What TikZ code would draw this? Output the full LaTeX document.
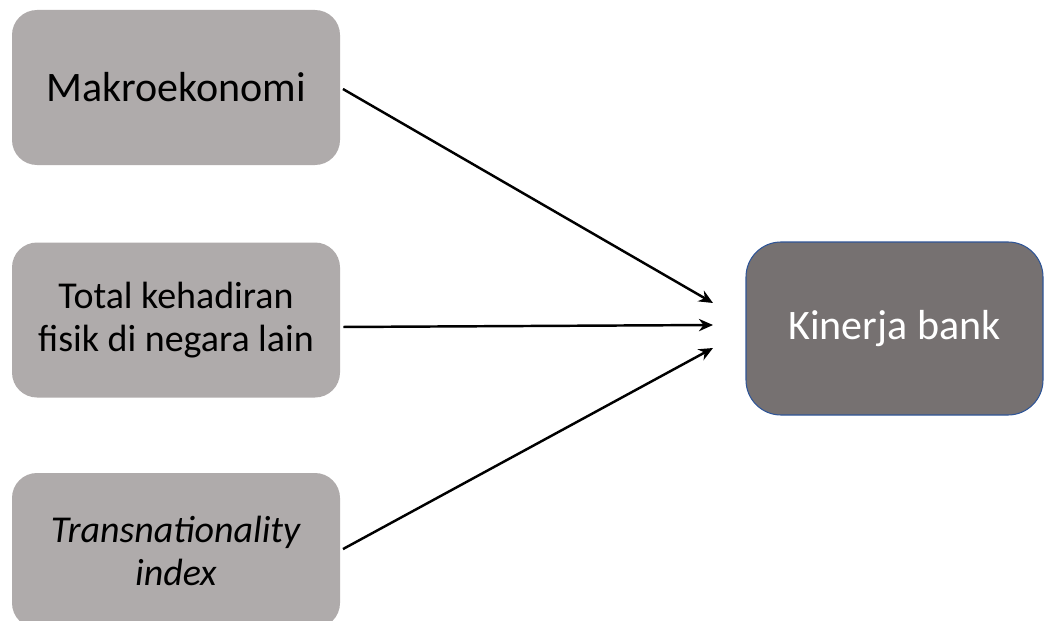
\documentclass[tikz,border=0pt]{standalone}
\usepackage{fontspec}
\setmainfont{Carlito}
\usepackage{tikz}
\usetikzlibrary{arrows.meta}
\definecolor{factorgray}{HTML}{AFABAB}
\definecolor{bankgray}{HTML}{767171}
\definecolor{bankedge}{HTML}{2F5597}

\begin{document}
\begin{tikzpicture}[
  factor/.style={shape=rectangle, rounded corners=0.5cm, fill=factorgray,
    minimum width=6.56cm, minimum height=3.1cm, align=center,
    font=\fontsize{21.6}{24.5}\selectfont},
  target/.style={shape=rectangle, rounded corners=0.7cm, fill=bankgray,
    draw=bankedge, line width=0.6pt, minimum width=5.94cm, minimum height=3.46cm,
    text=white, font=\fontsize{23.9}{26}\selectfont},
  link/.style={-{Stealth[length=8pt,width=7pt]}, line width=1.4pt, shorten <=1.7pt}]
\clip (0,0) rectangle (20.92,12.4);

\node[factor, font=\fontsize{23.9}{26}\selectfont](M) at (3.52,10.65) {Makroekonomi};
\node[factor](T) at (3.52,6.0) {Total kehadiran\\fisik di negara lain};
\node[factor](I) at (3.52,1.39) {\textit{Transnationality}\\\textit{index}};
\node[target](K) at (17.89,5.83) {Kinerja bank};

\coordinate (k1) at (14.26,6.34);
\coordinate (k2) at (14.26,5.90);
\coordinate (k3) at (14.26,5.44);

\path[link] (M.east) edge (k1);
\path[link] ([yshift=-1.4mm]T.east) edge (k2);
\path[link] (I.east) edge (k3);
\end{tikzpicture}
\end{document}
